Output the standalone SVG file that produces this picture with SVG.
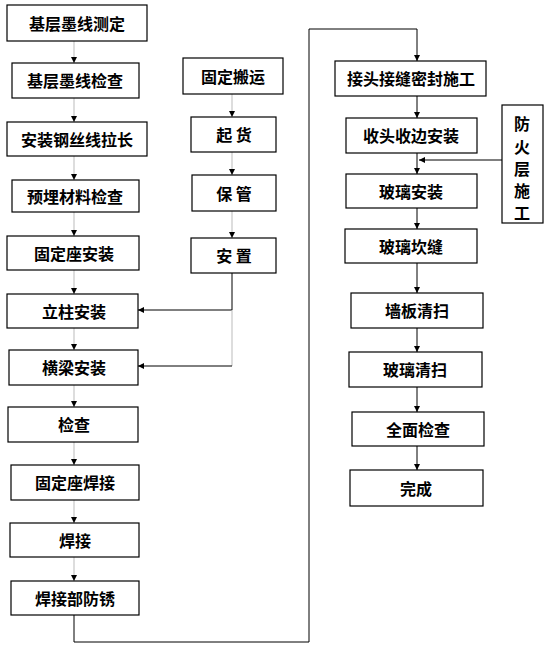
<svg xmlns="http://www.w3.org/2000/svg" width="553" height="652" viewBox="0 0 553 652">
<defs>
<marker id="arr" viewBox="0 0 6 6" refX="6" refY="3" markerWidth="6" markerHeight="6" markerUnits="userSpaceOnUse" orient="auto">
<path d="M0,0 L6,3 L0,6 z" fill="#000"/>
</marker>
<style>
rect{fill:#fff;stroke:#000;stroke-width:1.2}
text{font-family:"Noto Sans CJK SC","Noto Sans CJK JP",sans-serif;font-size:16px;font-weight:bold;fill:#000;text-anchor:middle;dominant-baseline:central}
.c line,.c polyline{fill:none;stroke:#000;stroke-width:1}
.c .f{stroke:#bbb}
</style>
</defs>
<rect x="0" y="0" width="553" height="652" style="fill:#fff;stroke:none"/>
<g class="c" id="connectors">
<line class="f" x1="74" y1="41" x2="74" y2="63" marker-end="url(#arr)"/>
<line class="f" x1="74" y1="98" x2="74" y2="122" marker-end="url(#arr)"/>
<line class="f" x1="74" y1="156" x2="74" y2="180" marker-end="url(#arr)"/>
<line class="f" x1="74" y1="212" x2="74" y2="236" marker-end="url(#arr)"/>
<line class="f" x1="74" y1="270" x2="74" y2="294" marker-end="url(#arr)"/>
<line class="f" x1="74" y1="328" x2="74" y2="350" marker-end="url(#arr)"/>
<line class="f" x1="74" y1="385" x2="74" y2="407" marker-end="url(#arr)"/>
<line class="f" x1="74" y1="442" x2="74" y2="465" marker-end="url(#arr)"/>
<line class="f" x1="74" y1="500" x2="74" y2="523" marker-end="url(#arr)"/>
<line class="f" x1="74" y1="557" x2="74" y2="581" marker-end="url(#arr)"/>
<polyline points="74,615 74,642 309,642 309,29 417,29 417,61" marker-end="url(#arr)"/>
<line class="f" x1="232" y1="94" x2="232" y2="117" marker-end="url(#arr)"/>
<line class="f" x1="232" y1="152" x2="232" y2="175" marker-end="url(#arr)"/>
<line class="f" x1="232" y1="211" x2="232" y2="238" marker-end="url(#arr)"/>
<polyline points="232,273 232,310 138,310" marker-end="url(#arr)"/>
<line class="f" x1="232" y1="310" x2="232" y2="366"/>
<line x1="232" y1="366" x2="138" y2="366" marker-end="url(#arr)"/>
<line x1="417" y1="96" x2="417" y2="118" marker-end="url(#arr)"/>
<line x1="417" y1="153" x2="417" y2="174" marker-end="url(#arr)"/>
<line x1="417" y1="208" x2="417" y2="229" marker-end="url(#arr)"/>
<line x1="417" y1="263" x2="417" y2="293" marker-end="url(#arr)"/>
<line x1="417" y1="328" x2="417" y2="352" marker-end="url(#arr)"/>
<line x1="417" y1="387" x2="417" y2="412" marker-end="url(#arr)"/>
<line x1="417" y1="446" x2="417" y2="470" marker-end="url(#arr)"/>
<line x1="502" y1="160" x2="419" y2="160" marker-end="url(#arr)"/>
</g>
<g id="n1"><rect x="7" y="5" width="140" height="36"/><text x="77" y="23">基层墨线测定</text></g>
<g id="n2"><rect x="12" y="63" width="127" height="35"/><text x="75" y="80">基层墨线检查</text></g>
<g id="n3"><rect x="7" y="122" width="140" height="34"/><text x="77" y="139">安装钢丝线拉长</text></g>
<g id="n4"><rect x="12" y="180" width="127" height="32"/><text x="75" y="196">预埋材料检查</text></g>
<g id="n5"><rect x="7" y="236" width="132" height="34"/><text x="74" y="253">固定座安装</text></g>
<g id="n6"><rect x="7" y="294" width="131" height="34"/><text x="74" y="311">立柱安装</text></g>
<g id="n7"><rect x="9" y="350" width="129" height="35"/><text x="74" y="367">横梁安装</text></g>
<g id="n8"><rect x="8" y="407" width="130" height="35"/><text x="74" y="424">检查</text></g>
<g id="n9"><rect x="11" y="465" width="128" height="35"/><text x="75" y="482">固定座焊接</text></g>
<g id="n10"><rect x="10" y="523" width="129" height="34"/><text x="75" y="540">焊接</text></g>
<g id="n11"><rect x="11" y="581" width="128" height="34"/><text x="75" y="598">焊接部防锈</text></g>
<g id="m1"><rect x="183" y="58" width="100" height="36"/><text x="233" y="76">固定搬运</text></g>
<g id="m2"><rect x="191" y="117" width="85" height="35"/><text x="234" y="134">起 货</text></g>
<g id="m3"><rect x="192" y="175" width="84" height="36"/><text x="234" y="193">保 管</text></g>
<g id="m4"><rect x="191" y="238" width="85" height="35"/><text x="234" y="255">安 置</text></g>
<g id="r1"><rect x="335" y="61" width="151" height="35"/><text x="411" y="78">接头接缝密封施工</text></g>
<g id="r2"><rect x="346" y="118" width="131" height="35"/><text x="411" y="135">收头收边安装</text></g>
<g id="r3"><rect x="346" y="174" width="131" height="34"/><text x="411" y="191">玻璃安装</text></g>
<g id="r4"><rect x="345" y="229" width="132" height="34"/><text x="411" y="246">玻璃坎缝</text></g>
<g id="r5"><rect x="351" y="293" width="132" height="35"/><text x="417" y="310">墙板清扫</text></g>
<g id="r6"><rect x="349" y="352" width="133" height="35"/><text x="415" y="369">玻璃清扫</text></g>
<g id="r7"><rect x="352" y="412" width="132" height="34"/><text x="418" y="429">全面检查</text></g>
<g id="r8"><rect x="350" y="470" width="133" height="36"/><text x="416" y="488">完成</text></g>
<g id="fire"><rect x="502" y="105" width="41" height="118"/>
<text x="522" y="123">防</text><text x="522" y="146">火</text><text x="522" y="168">层</text><text x="522" y="190">施</text><text x="522" y="212">工</text></g>
</svg>
